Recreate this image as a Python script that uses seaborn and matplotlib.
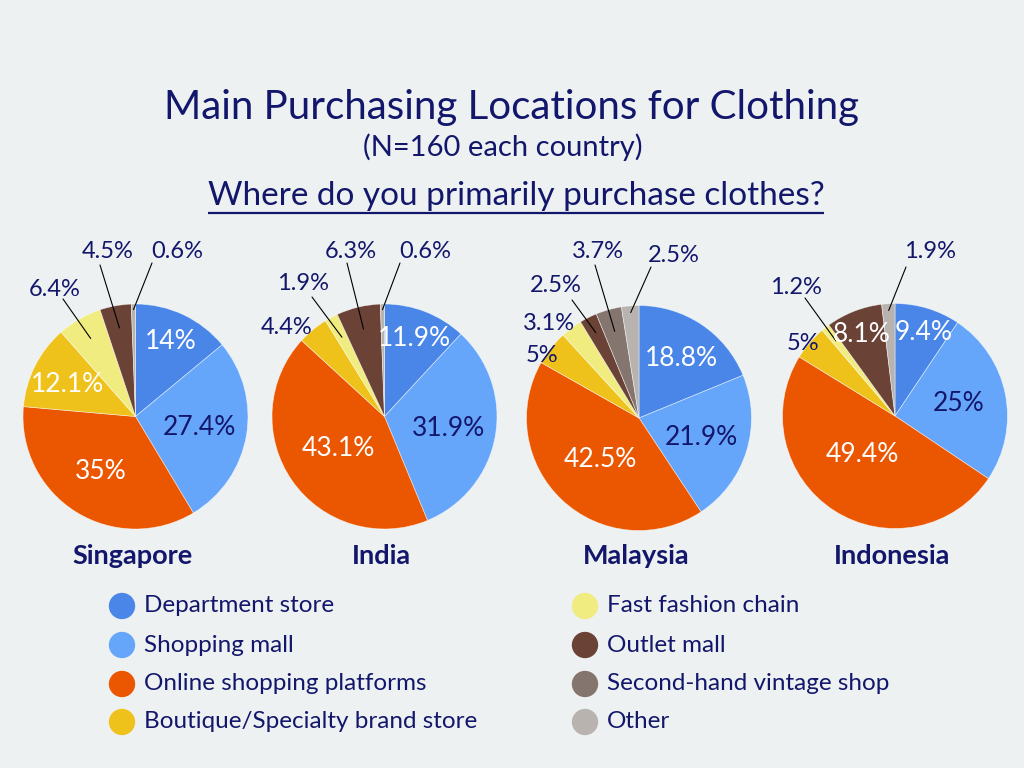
import matplotlib
matplotlib.use("Agg")
import matplotlib.pyplot as plt
import seaborn as sns
import numpy as np

# ---------------- data ----------------
categories = ["Department store", "Shopping mall", "Online shopping platforms",
              "Boutique/Specialty brand store", "Fast fashion chain", "Outlet mall",
              "Second-hand vintage shop", "Other"]
countries = ["Singapore", "India", "Malaysia", "Indonesia"]
singapore = [14, 27.4, 35, 12.1, 6.4, 4.5, 0, 0.6]
india = [11.9, 31.9, 43.1, 4.4, 1.9, 6.3, 0, 0.6]
malaysia = [18.8, 21.9, 42.5, 5, 3.1, 2.5, 3.7, 2.5]
indonesia = [9.4, 25, 49.4, 5, 1.2, 8.1, 0, 1.9]
values = {"Singapore": singapore, "India": india, "Malaysia": malaysia, "Indonesia": indonesia}

title = "Main Purchasing Locations for Clothing"
subtitle = "(N=160 each country)"
question = "Where do you primarily purchase clothes?"

# ---------------- style ----------------
BG = "#EEF1F2"
NAVY = "#13176B"
palette = sns.color_palette(["#4A86E8", "#66A6FA", "#EB5600", "#EEC21B",
                             "#F0EC7F", "#6A4236", "#84766F", "#B8B3AE"])
inside_color = ["white", NAVY, "white", "white", NAVY, "white", "white", NAVY]

sns.set_theme(style="white")
plt.rcParams["font.family"] = ["Lato", "DejaVu Sans"]

W, H = 1024, 768
R = 112.5
# layout: pie centres (px), outside label placement idx -> (text xy, line start xy, line end radius),
# and inside label position overrides idx -> xy
layout = {
    "Singapore": dict(center=(135.5, 416.5),
                      out={4: ((55, 290), (63, 299), 0.8),
                           5: ((108, 252), (100, 265), 0.8),
                           7: ((177, 252), (152, 263), 0.95)},
                      inside={3: (68, 385)}),
    "India": dict(center=(384.5, 416.5),
                  out={3: ((287, 327), None, 0),
                       4: ((303, 283), (312, 297), 0.8),
                       5: ((351, 252), (347, 263), 0.8),
                       7: ((425, 252), (400, 263), 0.95)},
                  inside={}),
    "Malaysia": dict(center=(639, 418),
                     out={3: ((542, 355), None, 0),
                          4: ((549, 323), None, 0),
                          5: ((556, 285), (572, 300), 0.85),
                          6: ((598, 252), (595, 265), 0.8),
                          7: ((674, 255), (651, 267), 0.94)},
                     inside={0: (681, 358)}),
    "Indonesia": dict(center=(895, 416),
                      out={3: ((803, 343), None, 0),
                           4: ((796, 288), (805, 298), 0.85),
                           7: ((930, 252), (906, 267), 0.94)},
                      inside={0: (924, 333), 5: (862, 334), 2: (862, 455)}),
}
label_y = 556

fig = plt.figure(figsize=(W / 100, H / 100), dpi=100, facecolor=BG)

for country in countries:
    vals = values[country]
    cx, cy = layout[country]["center"]
    ax = fig.add_axes([(cx - R) / W, (H - cy - R) / H, 2 * R / W, 2 * R / H])
    ax.set_facecolor("none")
    idx = [i for i, v in enumerate(vals) if v > 0]
    ax.pie([vals[i] for i in idx], colors=[palette[i] for i in idx],
           startangle=90, counterclock=False, radius=1,
           wedgeprops=dict(edgecolor=(1, 1, 1, 0.6), linewidth=0.5))
    ax.set_xlim(-1, 1)
    ax.set_ylim(-1, 1)
    ax.set_aspect("auto")
    ax.axis("off")

ov = fig.add_axes([0, 0, 1, 1])
ov.set_facecolor("none")
ov.set_xlim(0, W)
ov.set_ylim(H, 0)
ov.axis("off")

for country in countries:
    vals = values[country]
    cx, cy = layout[country]["center"]
    out = layout[country]["out"]
    ins = layout[country]["inside"]
    total = sum(vals)
    cum = 0
    for i, v in enumerate(vals):
        if v <= 0:
            continue
        mid = 90 - (cum + v / 2) / total * 360
        cum += v
        th = np.deg2rad(mid)
        txt = f"{v:g}%"
        if i in out:
            (tx, ty), start, rend = out[i]
            ov.text(tx, ty, txt, ha="center", va="center", fontsize=17, color=NAVY)
            if start is not None:
                ex = cx + rend * R * np.cos(th)
                ey = cy - rend * R * np.sin(th)
                ov.plot([start[0], ex], [start[1], ey], color="black", lw=0.8)
        else:
            if i in ins:
                px, py = ins[i]
            else:
                r = 0.5 if v >= 40 else (0.58 if v >= 15 else 0.74)
                px, py = cx + r * R * np.cos(th), cy - r * R * np.sin(th)
            ov.text(px, py, txt, ha="center", va="center", fontsize=19,
                    color=inside_color[i])
    ov.text(cx - 3, label_y, country, ha="center", va="center", fontsize=19.5,
            fontweight="bold", color=NAVY)

ov.text(512, 108, title, ha="center", va="center", fontsize=29, color=NAVY)
ov.text(503, 147, subtitle, ha="center", va="center", fontsize=21, color=NAVY)
q = ov.text(516, 196, question, ha="center", va="center", fontsize=24, color=NAVY)

fig.canvas.draw()
bb = q.get_window_extent(renderer=fig.canvas.get_renderer())
ov.plot([bb.x0, bb.x1], [213, 213], color=NAVY, lw=1.6, solid_capstyle="butt")

# legend
leg_x = [122, 585]
leg_y = [606, 645, 684, 722]
for i, cat in enumerate(categories):
    col, row = divmod(i, 4)
    ov.scatter([leg_x[col]], [leg_y[row]], s=360, color=palette[i], edgecolors="none")
    ov.text(leg_x[col] + 22, leg_y[row], cat, ha="left", va="center", fontsize=17.5, color=NAVY)

fig.savefig("out.png", dpi=100, facecolor=BG)
